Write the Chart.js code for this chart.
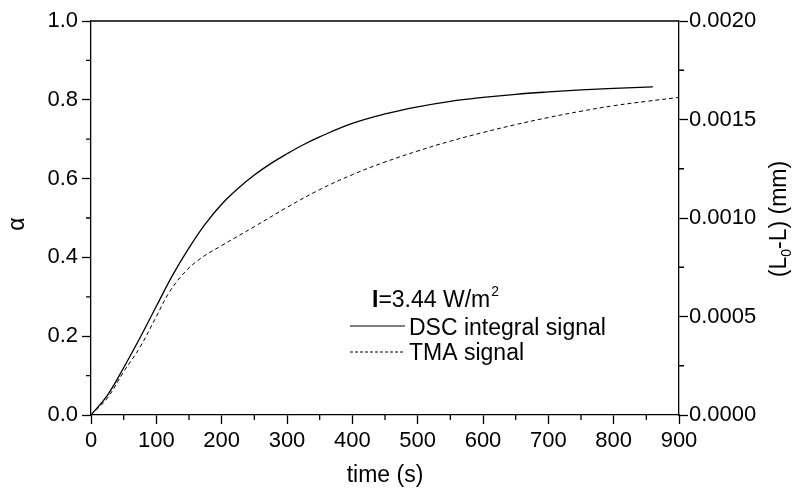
<!DOCTYPE html>
<html lang="en">
<head>
    <meta charset="UTF-8">
    <title>DSC / TMA signal</title>
    <style>
        body { margin: 0; padding: 0; background: #ffffff; }
        #wrap { width: 796px; height: 488px; }
    </style>
    <script src="https://cdn.jsdelivr.net/npm/chart.js@4.4.1/dist/chart.umd.min.js"></script>
</head>
<body>
    <div id="wrap"><canvas id="kinetics" width="796" height="488"></canvas></div>

    <script>
        // DSC integral signal (conversion alpha, left axis)
        const dscTime  = [0, 25, 50, 75, 100, 125, 150, 175, 200, 225, 250, 275, 300, 325, 350, 400, 450, 500, 550, 600, 650, 700, 750, 800, 860];
        const dscAlpha = [0, 0.05, 0.12, 0.196, 0.276, 0.355, 0.424, 0.485, 0.535, 0.575, 0.609, 0.638, 0.663, 0.686, 0.706, 0.74, 0.764, 0.782, 0.796, 0.806, 0.814, 0.82, 0.825, 0.829, 0.833];

        // TMA signal (L0-L in mm, right axis)
        const tmaTime = [0, 25, 50, 75, 100, 120, 145, 170, 200, 250, 300, 350, 400, 450, 500, 550, 600, 650, 700, 750, 800, 850, 900];
        const tmaMm   = [0, 0.000086, 0.00022, 0.000344, 0.0005, 0.000624, 0.00073, 0.0008, 0.00086, 0.000956, 0.001054, 0.001144, 0.00122, 0.001284, 0.00134, 0.00139, 0.001434, 0.001474, 0.00151, 0.001542, 0.00157, 0.001592, 0.001612];

        const xTicks = [0, 100, 200, 300, 400, 500, 600, 700, 800, 900];
        const FONT = 'Liberation Sans, Arial, sans-serif';

        const pts = (xs, ys) => xs.map((x, i) => ({ x: x, y: ys[i] }));

        // minor ticks, frame and text annotations
        const extras = {
            id: 'extras',
            afterDraw(chart) {
                const c = chart.ctx;
                const a = chart.chartArea;
                const sx = chart.scales.x, sy = chart.scales.y, sy2 = chart.scales.y2;
                c.save();
                c.strokeStyle = '#000';
                c.lineWidth = 1.3;
                c.beginPath();
                for (let v = 50; v < 900; v += 100) {
                    const px = sx.getPixelForValue(v);
                    c.moveTo(px, a.bottom); c.lineTo(px, a.bottom + 5);
                }
                for (let v = 0.1; v < 1; v += 0.2) {
                    const py = sy.getPixelForValue(v);
                    c.moveTo(a.left, py); c.lineTo(a.left - 5, py);
                }
                for (let v = 0.00025; v < 0.002; v += 0.0005) {
                    const py = sy2.getPixelForValue(v);
                    c.moveTo(a.right, py); c.lineTo(a.right + 5, py);
                }
                // top frame line
                c.moveTo(a.left, a.top); c.lineTo(a.right, a.top);
                c.stroke();

                c.fillStyle = '#000';
                c.textBaseline = 'alphabetic';

                // x title
                c.font = '23px ' + FONT;
                c.textAlign = 'center';
                c.fillText('time (s)', (a.left + a.right) / 2, 482);

                // left title
                c.save();
                c.translate(24, 224);
                c.rotate(-Math.PI / 2);
                c.font = '23px ' + FONT;
                c.fillText('\u03b1', 0, 0);
                c.restore();

                // right title with subscript
                c.save();
                c.translate(786, 219);
                c.rotate(-Math.PI / 2);
                c.textAlign = 'left';
                c.font = '23px ' + FONT;
                const p1 = '(L', p2 = '-L) (mm)';
                const w1 = c.measureText(p1).width;
                const w2 = c.measureText(p2).width;
                c.font = '14px ' + FONT;
                const ws = c.measureText('0').width;
                const x0 = -(w1 + ws + w2) / 2;
                c.fillText('0', x0 + w1, 5);
                c.font = '23px ' + FONT;
                c.fillText(p1, x0, 0);
                c.fillText(p2, x0 + w1 + ws, 0);
                c.restore();

                // legend block
                c.textAlign = 'left';
                c.font = 'bold 23px ' + FONT;
                c.fillText('I', 372, 307);
                const wI = c.measureText('I').width;
                c.font = '23px ' + FONT;
                const tI = '=3.44 W/m';
                c.fillText(tI, 372 + wI, 307);
                const wT = c.measureText(tI).width;
                c.font = '14px ' + FONT;
                c.fillText('2', 372 + wI + wT + 1, 296);
                c.font = '23px ' + FONT;
                c.fillText('DSC integral signal', 409, 335);
                c.fillText('TMA signal', 409, 360);

                c.lineWidth = 1.2;
                c.beginPath();
                c.moveTo(350, 326); c.lineTo(405, 326);
                c.stroke();
                c.lineWidth = 1;
                c.setLineDash([3, 2]);
                c.beginPath();
                c.moveTo(350, 352); c.lineTo(405, 352);
                c.stroke();
                c.restore();
            }
        };

        const ctx = document.getElementById('kinetics').getContext('2d');
        new Chart(ctx, {
            type: 'line',
            data: {
                datasets: [
                    {
                        label: 'DSC integral signal',
                        data: pts(dscTime, dscAlpha),
                        yAxisID: 'y',
                        borderColor: '#000',
                        borderWidth: 1.3,
                        pointRadius: 0,
                        tension: 0.4,
                        fill: false
                    },
                    {
                        label: 'TMA signal',
                        data: pts(tmaTime, tmaMm),
                        yAxisID: 'y2',
                        borderColor: '#000',
                        borderWidth: 1,
                        borderDash: [4, 3],
                        pointRadius: 0,
                        tension: 0.4,
                        fill: false
                    }
                ]
            },
            options: {
                responsive: false,
                animation: false,
                layout: { padding: { left: 0, right: 0, top: 21, bottom: 0 } },
                plugins: {
                    legend: { display: false },
                    tooltip: { enabled: false }
                },
                scales: {
                    x: {
                        type: 'linear',
                        min: 0,
                        max: 900,
                        afterBuildTicks: (s) => { s.ticks = xTicks.map(v => ({ value: v })); },
                        afterFit: (s) => { s.height = 73; },
                        ticks: { color: '#000', font: { family: FONT, size: 22 }, padding: 4, maxRotation: 0 },
                        grid: { drawOnChartArea: false, tickLength: 9, tickColor: '#000', tickWidth: 1.3 },
                        border: { color: '#000', width: 1.3 }
                    },
                    y: {
                        position: 'left',
                        min: 0,
                        max: 1,
                        afterFit: (s) => { s.width = 91; },
                        ticks: { stepSize: 0.2, color: '#000', font: { family: FONT, size: 22 }, padding: 4,
                                 callback: (v) => v.toFixed(1) },
                        grid: { drawOnChartArea: false, tickLength: 9, tickColor: '#000', tickWidth: 1.3 },
                        border: { color: '#000', width: 1.3 }
                    },
                    y2: {
                        position: 'right',
                        min: 0,
                        max: 0.002,
                        afterFit: (s) => { s.width = 117; },
                        ticks: { stepSize: 0.0005, color: '#000', font: { family: FONT, size: 22 }, padding: 1,
                                 callback: (v) => v.toFixed(4) },
                        grid: { drawOnChartArea: false, tickLength: 9, tickColor: '#000', tickWidth: 1.3 },
                        border: { color: '#000', width: 1.3 }
                    }
                }
            },
            plugins: [extras]
        });
    </script>
</body>
</html>
